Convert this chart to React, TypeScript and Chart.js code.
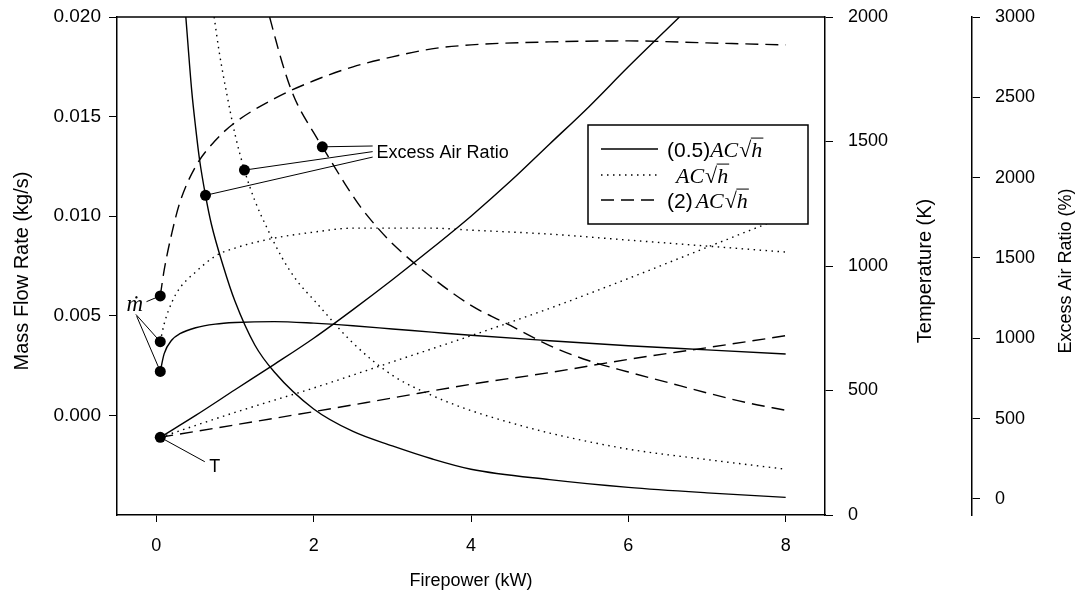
import React, { useEffect, useRef } from "react";
import { Chart, registerables } from "chart.js";

Chart.register(...registerables);

// ---------- axis ticks ----------
const X_TICKS = [0, 2, 4, 6, 8];
const MASS_TICKS = [0, 0.005, 0.01, 0.015, 0.02];
const TEMP_TICKS = [0, 500, 1000, 1500, 2000];
const EAR_TICKS = [0, 500, 1000, 1500, 2000, 2500, 3000];

// ---------- series labels ----------
const SERIES_PREFIX = ["(0.5)", "", "(2)"];

// ---------- mass flow rate (kg/s) ----------
const MASS_X = [0.05, 0.1, 0.2, 0.3, 0.5, 0.75, 1, 1.5, 2, 2.5, 3, 3.5, 4, 5, 6, 7, 8];
const MASS_05 = [0.00221, 0.0031, 0.0038, 0.0041, 0.0044, 0.00458, 0.00466, 0.00471, 0.00463, 0.0045, 0.00434, 0.00418, 0.00402, 0.00375, 0.0035, 0.00329, 0.00308];
const MASS_10 = [0.0037, 0.0046, 0.0057, 0.0064, 0.0072, 0.008, 0.0084, 0.0089, 0.0092, 0.0094, 0.0094, 0.0094, 0.0093, 0.0091, 0.0088, 0.0085, 0.0082];
const MASS_20 = [0.006, 0.0073, 0.0092, 0.0107, 0.0125, 0.0138, 0.0147, 0.0159, 0.0168, 0.0175, 0.018, 0.0184, 0.0186, 0.01875, 0.0188, 0.0187, 0.0186];

// ---------- temperature (K) ----------
const TEMP_X_05 = [0.05, 0.5, 1, 1.5, 2, 2.5, 3, 3.5, 4, 4.5, 5, 5.5, 6, 6.65];
const TEMP_05 = [312, 400, 503, 605, 710, 825, 945, 1070, 1200, 1340, 1490, 1640, 1800, 2000];
const TEMP_X = [0.05, 1, 2, 3, 4, 5, 6, 7, 8];
const TEMP_10 = [312, 412, 510, 615, 720, 830, 950, 1075, 1200];
const TEMP_20 = [312, 362, 415, 470, 525, 572, 625, 672, 720];

// ---------- excess air ratio (%) ----------
const EAR_X_05 = [0.375, 0.45, 0.5, 0.55, 0.625, 0.7, 0.85, 1, 1.25, 1.5, 2, 2.5, 3, 3.5, 4, 5, 6, 7, 8];
const EAR_05 = [3000, 2540, 2310, 2110, 1890, 1710, 1450, 1230, 960, 790, 560, 420, 330, 250, 185, 120, 72, 38, 10];
const EAR_X_10 = [0.735, 0.8, 0.9, 1, 1.12, 1.25, 1.4, 1.6, 1.8, 2, 2.5, 3, 3.5, 4, 4.5, 5, 6, 7, 8];
const EAR_10 = [3000, 2780, 2510, 2270, 2047, 1860, 1694, 1500, 1350, 1240, 970, 770, 645, 550, 475, 410, 310, 245, 185];
const EAR_X_20 = [1.44, 1.5, 1.6, 1.7, 1.8, 2, 2.11, 2.2, 2.4, 2.6, 2.8, 3, 3.5, 4, 4.5, 5, 5.5, 6, 6.5, 7, 7.5, 8];
const EAR_20 = [3000, 2890, 2715, 2566, 2450, 2280, 2192, 2120, 1960, 1815, 1695, 1590, 1380, 1205, 1080, 955, 860, 790, 725, 660, 600, 552];

// ---------- marker dots ----------
const MASS_DOT_X = [0.05, 0.05, 0.05];
const MASS_DOT_Y = [0.006, 0.0037, 0.00221];
const TEMP_DOT_X = [0.05];
const TEMP_DOT_Y = [312];
const EAR_DOT_X = [0.625, 1.12, 2.11];
const EAR_DOT_Y = [1890, 2047, 2192];

// ---------- annotation anchors (data units) ----------
const MDOT_LABEL = { x: -0.273, y: 0.00522 };
const MDOT_LEADER_START = [
  { x: -0.125, y: 0.00571 },
  { x: -0.26, y: 0.00507 },
  { x: -0.25, y: 0.00498 },
];
const T_LABEL = { x: 0.743, y: 194 };
const T_LEADER_END = { x: 0.616, y: 214 };
const EAR_LABEL = { x: 2.8, y: 2153 };
const EAR_LEADER_END = [
  { x: 2.75, y: 2128 },
  { x: 2.75, y: 2162 },
  { x: 2.75, y: 2197 },
];

const SANS = '"Liberation Sans", Arial, Helvetica, sans-serif';
const SERIF = '"Liberation Serif", "DejaVu Serif", "Times New Roman", serif';

const pts = (xs: number[], ys: number[]) => xs.map((x, i) => ({ x, y: ys[i] }));

const DASHES: number[][] = [[], [1.5, 4.5], [13, 7]];

function drawRadicalText(ctx: CanvasRenderingContext2D, x: number, y: number, size: number) {
  ctx.font = `italic ${size}px ${SERIF}`;
  ctx.fillText("AC", x, y);
  x += ctx.measureText("AC").width + 1;
  ctx.font = `${size}px ${SERIF}`;
  ctx.fillText("\u221A", x, y);
  x += ctx.measureText("\u221A").width;
  ctx.font = `italic ${size}px ${SERIF}`;
  ctx.fillText("h", x, y);
  const hw = ctx.measureText("h").width;
  ctx.lineWidth = 1;
  ctx.setLineDash([]);
  ctx.beginPath();
  ctx.moveTo(x - 0.5, y - size * 0.86);
  ctx.lineTo(x + hw + 1, y - size * 0.86);
  ctx.stroke();
}

const decorPlugin = {
  id: "decor",
  afterDraw(chart: any) {
    const ctx: CanvasRenderingContext2D = chart.ctx;
    const { left, right, top, bottom } = chart.chartArea;
    const sx = chart.scales.x;
    const sm = chart.scales.y;
    const st = chart.scales.y1;
    const se = chart.scales.y2;
    ctx.save();
    ctx.fillStyle = "#000";
    ctx.strokeStyle = "#000";

    // top frame line
    ctx.lineWidth = 1.5;
    ctx.beginPath();
    ctx.moveTo(left, top);
    ctx.lineTo(right, top);
    ctx.stroke();

    // axis titles
    ctx.textAlign = "center";
    ctx.textBaseline = "middle";
    const midY = (top + bottom) / 2 + 5;
    const vtitle = (text: string, x: number, size: number) => {
      ctx.save();
      ctx.font = `${size}px ${SANS}`;
      ctx.translate(x, midY);
      ctx.rotate(-Math.PI / 2);
      ctx.fillText(text, 0, 0);
      ctx.restore();
    };
    vtitle("Mass Flow Rate (kg/s)", 22, 20);
    vtitle("Temperature (K)", st.left + 100, 20);
    vtitle("Excess Air Ratio (%)", se.left + 94, 18);
    ctx.font = `18px ${SANS}`;
    ctx.fillText("Firepower (kW)", (left + right) / 2, 581);

    // leader lines
    ctx.lineWidth = 1;
    ctx.setLineDash([]);
    MDOT_LEADER_START.forEach((p, i) => {
      ctx.beginPath();
      ctx.moveTo(sx.getPixelForValue(p.x), sm.getPixelForValue(p.y));
      ctx.lineTo(sx.getPixelForValue(MASS_DOT_X[i]), sm.getPixelForValue(MASS_DOT_Y[i]));
      ctx.stroke();
    });
    ctx.beginPath();
    ctx.moveTo(sx.getPixelForValue(TEMP_DOT_X[0]), st.getPixelForValue(TEMP_DOT_Y[0]));
    ctx.lineTo(sx.getPixelForValue(T_LEADER_END.x), st.getPixelForValue(T_LEADER_END.y));
    ctx.stroke();
    EAR_LEADER_END.forEach((p, i) => {
      ctx.beginPath();
      ctx.moveTo(sx.getPixelForValue(EAR_DOT_X[i]), se.getPixelForValue(EAR_DOT_Y[i]));
      ctx.lineTo(sx.getPixelForValue(p.x), se.getPixelForValue(p.y));
      ctx.stroke();
    });

    // labels
    ctx.font = `italic 23px ${SERIF}`;
    ctx.textAlign = "center";
    ctx.textBaseline = "alphabetic";
    ctx.fillText("\u1E41", sx.getPixelForValue(MDOT_LABEL.x), sm.getPixelForValue(MDOT_LABEL.y));
    ctx.font = `18px ${SANS}`;
    ctx.textBaseline = "middle";
    ctx.fillText("T", sx.getPixelForValue(T_LABEL.x), st.getPixelForValue(T_LABEL.y));
    ctx.textAlign = "left";
    ctx.fillText("Excess Air Ratio", sx.getPixelForValue(EAR_LABEL.x), se.getPixelForValue(EAR_LABEL.y));

    // legend
    const lx = left + 471;
    const ly = top + 108;
    const lw = 220;
    const lh = 99;
    ctx.fillStyle = "#fff";
    ctx.fillRect(lx, ly, lw, lh);
    ctx.fillStyle = "#000";
    ctx.lineWidth = 1.5;
    ctx.strokeRect(lx, ly, lw, lh);
    const rows = [ly + 24, ly + 50, ly + 75];
    rows.forEach((ry, i) => {
      ctx.lineWidth = 1.4;
      ctx.setLineDash(DASHES[i]);
      ctx.beginPath();
      ctx.moveTo(lx + 13, ry);
      ctx.lineTo(lx + 70, ry);
      ctx.stroke();
      ctx.setLineDash([]);
      ctx.textAlign = "left";
      ctx.textBaseline = "alphabetic";
      const base = ry + 8;
      let tx = lx + 79;
      if (SERIES_PREFIX[i]) {
        ctx.font = `21px ${SANS}`;
        ctx.fillText(SERIES_PREFIX[i], tx, base);
        tx += ctx.measureText(SERIES_PREFIX[i]).width + (i === 2 ? 3 : 0);
      } else {
        tx += 9;
      }
      drawRadicalText(ctx, tx, base, 22);
    });
    ctx.restore();
  },
};

const noPad = (s: any) => {
  s.paddingTop = 0;
  s.paddingBottom = 0;
  s.paddingLeft = 0;
  s.paddingRight = 0;
};

export default function App() {
  const ref = useRef<HTMLCanvasElement | null>(null);
  useEffect(() => {
    document.body.style.margin = "0";
    const canvas = ref.current;
    if (!canvas) return;
    const tickFont = { family: SANS, size: 18 };
    const axisCommon = (tl: number) => ({
      grid: { display: true, drawOnChartArea: false, drawTicks: true, tickLength: tl, color: "#000", lineWidth: 1 },
      border: { display: true, color: "#000", width: 1.5 },
    });
    const line = (xs: number[], ys: number[], axis: string, style: number) => ({
      type: "line",
      data: pts(xs, ys),
      yAxisID: axis,
      borderColor: "#000",
      borderWidth: 1.4,
      borderDash: DASHES[style],
      pointRadius: 0,
      fill: false,
      cubicInterpolationMode: "monotone",
    });
    const dots = (xs: number[], ys: number[], axis: string) => ({
      type: "scatter",
      data: pts(xs, ys),
      yAxisID: axis,
      pointRadius: 5.5,
      pointBackgroundColor: "#000",
      pointBorderWidth: 0,
      showLine: false,
    });
    const chart = new Chart(canvas, {
      type: "line",
      data: {
        datasets: [
          dots(MASS_DOT_X, MASS_DOT_Y, "y"),
          dots(TEMP_DOT_X, TEMP_DOT_Y, "y1"),
          dots(EAR_DOT_X, EAR_DOT_Y, "y2"),
          line(MASS_X, MASS_05, "y", 0),
          line(MASS_X, MASS_10, "y", 1),
          line(MASS_X, MASS_20, "y", 2),
          line(TEMP_X_05, TEMP_05, "y1", 0),
          line(TEMP_X, TEMP_10, "y1", 1),
          line(TEMP_X, TEMP_20, "y1", 2),
          line(EAR_X_05, EAR_05, "y2", 0),
          line(EAR_X_10, EAR_10, "y2", 1),
          line(EAR_X_20, EAR_20, "y2", 2),
        ] as any,
      },
      options: {
        responsive: false,
        animation: false,
        devicePixelRatio: 1,
        layout: { padding: { top: 17, left: 0, right: 0, bottom: 0 } },
        plugins: { legend: { display: false }, tooltip: { enabled: false }, title: { display: false } },
        scales: {
          x: {
            type: "linear",
            min: -0.5,
            max: 8.5,
            afterBuildTicks: (s: any) => { s.ticks = X_TICKS.map((v) => ({ value: v })); },
            afterFit: (s: any) => { s.height = 88; noPad(s); },
            ...axisCommon(7),
            ticks: { font: tickFont, color: "#000", padding: 13, maxRotation: 0, autoSkip: false, callback: (v: any) => String(v) },
          },
          y: {
            type: "linear",
            position: "left",
            min: -0.005,
            max: 0.02,
            afterBuildTicks: (s: any) => { s.ticks = MASS_TICKS.map((v) => ({ value: v })); },
            afterFit: (s: any) => { s.width = 117; noPad(s); },
            ...axisCommon(8),
            ticks: { font: { family: SANS, size: 19 }, color: "#000", padding: 8, autoSkip: false, callback: (v: any) => Number(v).toFixed(3) },
          },
          y1: {
            type: "linear",
            position: "right",
            weight: 0,
            min: 0,
            max: 2000,
            afterBuildTicks: (s: any) => { s.ticks = TEMP_TICKS.map((v) => ({ value: v })); },
            afterFit: (s: any) => { s.width = 147; noPad(s); },
            ...axisCommon(8),
            ticks: { font: tickFont, color: "#000", padding: 15, autoSkip: false, callback: (v: any) => String(v) },
          },
          y2: {
            type: "linear",
            position: "right",
            weight: 1,
            min: -100,
            max: 3000,
            afterBuildTicks: (s: any) => { s.ticks = EAR_TICKS.map((v) => ({ value: v })); },
            afterFit: (s: any) => { s.width = 117; noPad(s); },
            ...axisCommon(8),
            ticks: { font: tickFont, color: "#000", padding: 15, autoSkip: false, callback: (v: any) => String(v) },
          },
        },
      } as any,
      plugins: [decorPlugin],
    });
    return () => chart.destroy();
  }, []);
  return (
    <div style={{ width: 1089, height: 603 }}>
      <canvas ref={ref} width={1089} height={603} style={{ display: "block" }} />
    </div>
  );
}
